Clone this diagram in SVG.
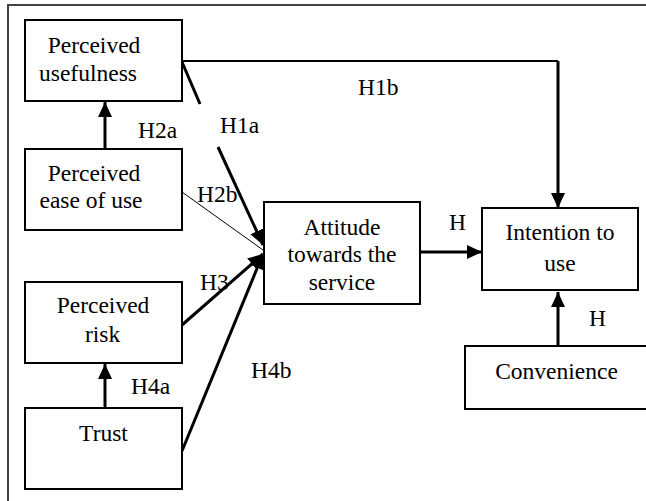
<svg xmlns="http://www.w3.org/2000/svg" width="646" height="501" viewBox="0 0 646 501">
<style>
.box{fill:#fff;stroke:#000;stroke-width:2}
text{font-family:'Liberation Serif','Times New Roman','DejaVu Serif',serif;font-size:23.5px;fill:#000}
.c{text-anchor:middle}
.thick{stroke:#000;stroke-width:3;fill:none}
.thin{stroke:#000;stroke-width:1;fill:none}
.mid{stroke:#000;stroke-width:2;fill:none}
</style>
<defs>
<marker id="ah" markerUnits="userSpaceOnUse" markerWidth="16" markerHeight="15" refX="15" refY="7" orient="auto">
<path d="M0,0 L15,7 L0,14 z" fill="#000"/>
</marker>
</defs>
<rect width="646" height="501" fill="#fff"/>
<g id="frame">
<path d="M8,501 L8,5 L646,5" fill="none" stroke="#444" stroke-width="2"/>
</g>
<g id="connectors">
<path class="mid" d="M182,61 L558,61"/>
<path class="thick" d="M558,61 L558,208" marker-end="url(#ah)"/>
<path class="thick" d="M105,149 L105,102" marker-end="url(#ah)"/>
<path class="thick" d="M105,408 L105,364" marker-end="url(#ah)"/>
<path class="thick" d="M182,62 L200,104"/>
<path class="thick" d="M218,147 L263,245" marker-end="url(#ah)"/>
<path class="thin" d="M182,192 L263,250"/>
<path class="thick" d="M182,325 L263,254" marker-end="url(#ah)"/>
<path class="thick" d="M182,451 L263,254" marker-end="url(#ah)"/>
<path class="thick" d="M420,252 L482,252" marker-end="url(#ah)"/>
<path class="thick" d="M558,346 L558,292" marker-end="url(#ah)"/>
</g>
<g id="pu">
<rect class="box" x="25" y="20" width="157" height="81"/>
<text class="c" x="94" y="53" font-family="Liberation Serif, serif">Perceived</text>
<text class="c" x="88" y="81">usefulness</text>
</g>
<g id="peou">
<rect class="box" x="25" y="149" width="157" height="81"/>
<text class="c" x="94" y="181">Perceived</text>
<text class="c" x="91" y="208">ease of use</text>
</g>
<g id="pr">
<rect class="box" x="25" y="282" width="157" height="81"/>
<text class="c" x="103" y="313">Perceived</text>
<text class="c" x="102.5" y="342">risk</text>
</g>
<g id="trust">
<rect class="box" x="25" y="408" width="157" height="81"/>
<text class="c" x="103.5" y="441">Trust</text>
</g>
<g id="attitude">
<rect class="box" x="264" y="202" width="156" height="102"/>
<text class="c" x="342" y="235">Attitude</text>
<text class="c" x="342" y="262">towards the</text>
<text class="c" x="342" y="290">service</text>
</g>
<g id="intention">
<rect class="box" x="482" y="208" width="156" height="82"/>
<text class="c" x="560" y="240">Intention to</text>
<text class="c" x="560" y="271">use</text>
</g>
<g id="convenience">
<rect class="box" x="465" y="346" width="190" height="63"/>
<text class="c" x="556.5" y="379">Convenience</text>
</g>
<g id="labels">
<text x="138" y="138">H2a</text>
<text x="220" y="133">H1a</text>
<text x="197" y="202">H2b</text>
<text x="200" y="290">H3</text>
<text x="251" y="378">H4b</text>
<text x="131" y="394">H4a</text>
<text x="358" y="95">H1b</text>
<text x="449" y="230">H</text>
<text x="589" y="326">H</text>
</g>
</svg>
